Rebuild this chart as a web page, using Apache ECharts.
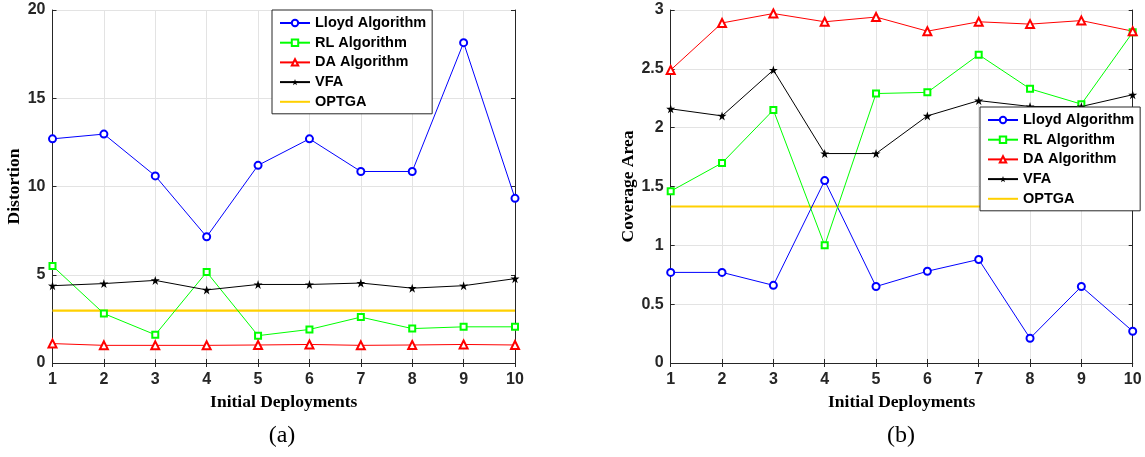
<!DOCTYPE html>
<html>
<head>
<meta charset="utf-8">
<script src="https://cdn.jsdelivr.net/npm/echarts@6/dist/echarts.min.js"></script>
<style>
  html, body { margin: 0; padding: 0; background: #fff; }
  #main { width: 1145px; height: 457px; }
</style>
</head>
<body>
<div id="main"></div>
<script>
// x categories
var deployments = ['1', '2', '3', '4', '5', '6', '7', '8', '9', '10'];

// (a) distortion
var distLloyd = [12.7, 12.97, 10.6, 7.15, 11.2, 12.7, 10.85, 10.85, 18.15, 9.33];
var distRL = [5.5, 2.8, 1.6, 5.15, 1.55, 1.9, 2.6, 1.95, 2.05, 2.05];
var distDA = [1.1, 1.0, 1.0, 1.0, 1.02, 1.05, 1.0, 1.02, 1.05, 1.02];
var distVFA = [4.38, 4.5, 4.68, 4.14, 4.45, 4.45, 4.53, 4.24, 4.38, 4.78];
var distOPTGA = [2.97, 2.97, 2.97, 2.97, 2.97, 2.97, 2.97, 2.97, 2.97, 2.97];

// (b) coverage area
var covLloyd = [0.77, 0.77, 0.66, 1.55, 0.65, 0.78, 0.88, 0.21, 0.65, 0.27];
var covRL = [1.46, 1.7, 2.15, 1.0, 2.29, 2.3, 2.62, 2.33, 2.2, 2.81];
var covDA = [2.49, 2.89, 2.97, 2.9, 2.94, 2.82, 2.9, 2.88, 2.91, 2.82];
var covVFA = [2.16, 2.1, 2.49, 1.78, 1.78, 2.1, 2.23, 2.18, 2.18, 2.28];
var covOPTGA = [1.33, 1.33, 1.33, 1.33, 1.33, 1.33, 1.33, 1.33, 1.33, 1.33];

var names = ['Lloyd Algorithm', 'RL Algorithm', 'DA Algorithm', 'VFA', 'OPTGA'];

var axisColor = '#262626';
var starPath = 'path://M50 0 L61.2 34.6 L97.6 34.5 L68.1 55.9 L79.4 90.5 L50 69 L20.6 90.5 L31.9 55.9 L2.4 34.5 L38.8 34.6 Z';

var tickFont = { fontFamily: 'Liberation Sans', fontWeight: 'bold', fontSize: 16, color: axisColor };
var titleFont = { fontFamily: 'Liberation Serif', fontWeight: 'bold', fontSize: 17.5, color: '#000' };

function makeSeries(idx, data) {
  var list = [
    { name: names[0], color: '#0000ff', symbol: 'emptyCircle', symbolSize: 7 },
    { name: names[1], color: '#00ff00', symbol: 'emptyRect', symbolSize: 6 },
    { name: names[2], color: '#ff0000', symbol: 'emptyTriangle', symbolSize: 8 },
    { name: names[3], color: '#000000', symbol: starPath, symbolSize: 9 },
    { name: names[4], color: '#ffd000', symbol: 'none', symbolSize: 0 }
  ];
  return list.map(function (s, i) {
    return {
      name: s.name,
      type: 'line',
      xAxisIndex: idx * 2,
      yAxisIndex: idx * 2,
      data: data[i],
      symbol: s.symbol,
      symbolSize: s.symbolSize,
      showSymbol: s.symbol !== 'none',
      color: s.color,
      lineStyle: { color: s.color, width: i === 4 ? 2.2 : 1 },
      itemStyle: { color: s.color, borderWidth: 1 },
      z: i === 4 ? 1 : 2,
      animation: false
    };
  });
}

function xAxes(grid) {
  return [
    {
      type: 'category', gridIndex: grid, data: deployments, boundaryGap: false,
      name: 'Initial Deployments', nameLocation: 'middle', nameGap: 30, nameTextStyle: titleFont,
      axisLine: { lineStyle: { color: axisColor } },
      axisTick: { inside: true, length: 4, lineStyle: { color: axisColor } },
      axisLabel: Object.assign({ margin: 9 }, tickFont),
      splitLine: { show: true, lineStyle: { color: '#e3e3e3' } }
    },
    {
      type: 'category', gridIndex: grid, data: deployments, boundaryGap: false, position: 'top',
      axisLine: { lineStyle: { color: axisColor } },
      axisTick: { inside: true, length: 4, lineStyle: { color: axisColor } },
      axisLabel: { show: false }, splitLine: { show: false }
    }
  ];
}

function yAxes(grid, name, max, step, gap) {
  return [
    {
      type: 'value', gridIndex: grid, min: 0, max: max, interval: step,
      name: name, nameLocation: 'middle', nameGap: gap, nameTextStyle: titleFont,
      axisLine: { show: true, lineStyle: { color: axisColor } },
      axisTick: { show: true, inside: true, length: 4, lineStyle: { color: axisColor } },
      axisLabel: Object.assign({ margin: 7 }, tickFont),
      splitLine: { show: true, lineStyle: { color: '#e3e3e3' } }
    },
    {
      type: 'value', gridIndex: grid, min: 0, max: max, interval: step, position: 'right',
      axisLine: { show: true, lineStyle: { color: axisColor } },
      axisTick: { show: true, inside: true, length: 4, lineStyle: { color: axisColor } },
      axisLabel: { show: false }, splitLine: { show: false }
    }
  ];
}

function legendAt(left, top) {
  var data = names.map(function (n) {
    // OPTGA is a plain line, no marker in the key
    return n === 'OPTGA' ? { name: n, itemStyle: { opacity: 0 } } : n;
  });
  return {
    orient: 'vertical', left: left, top: top, data: data,
    itemWidth: 30, itemHeight: 8, itemGap: 3.7,
    padding: [5, 6, 4, 7],
    backgroundColor: '#fff', borderColor: axisColor, borderWidth: 1,
    textStyle: { fontFamily: 'Liberation Sans', fontWeight: 'bold', fontSize: 14.5, color: '#000', lineHeight: 16 }
  };
}

var chart = echarts.init(document.getElementById('main'));

var option = {
  backgroundColor: '#fff',
  animation: false,
  title: [
    { text: '(a)', left: 277, top: 419, textAlign: 'center',
      textStyle: { fontFamily: 'Liberation Serif', fontWeight: 'normal', fontSize: 24, color: '#000' } },
    { text: '(b)', left: 896, top: 419, textAlign: 'center',
      textStyle: { fontFamily: 'Liberation Serif', fontWeight: 'normal', fontSize: 24, color: '#000' } }
  ],
  grid: [
    { left: 52.5, right: 630, top: 10, height: 353 },
    { left: 670.7, right: 12.3, top: 10, height: 353 }
  ],
  legend: [legendAt(272, 10), legendAt(980, 107)],
  xAxis: xAxes(0).concat(xAxes(1)),
  yAxis: yAxes(0, 'Distortion', 20, 5, 28).concat(yAxes(1, 'Coverage Area', 3, 0.5, 33)),
  series: makeSeries(0, [distLloyd, distRL, distDA, distVFA, distOPTGA])
    .concat(makeSeries(1, [covLloyd, covRL, covDA, covVFA, covOPTGA]))
};

chart.setOption(option);
</script>
</body>
</html>
